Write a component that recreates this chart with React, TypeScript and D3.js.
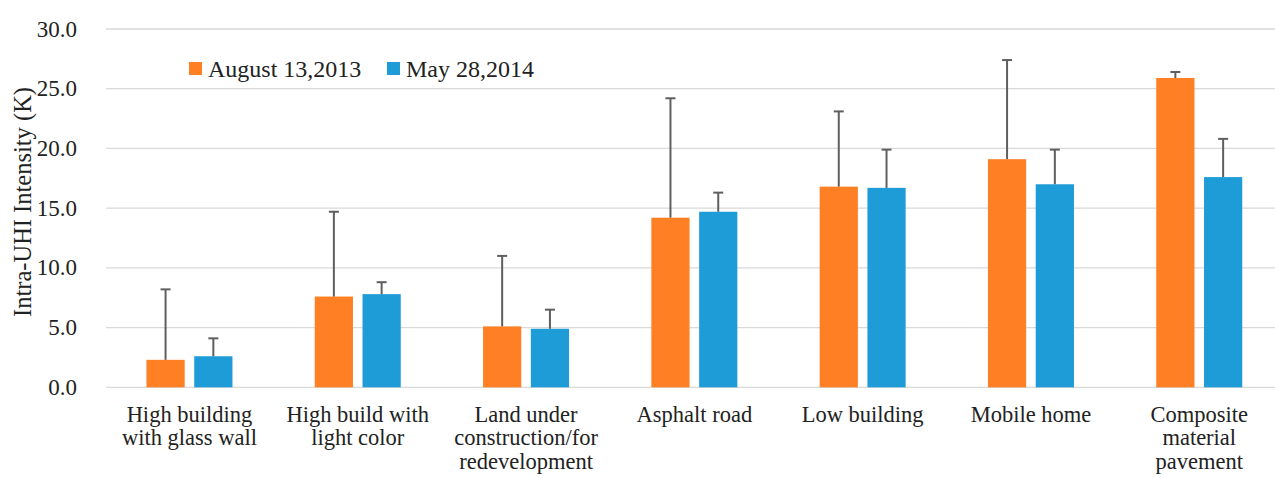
import React from 'react';
import * as d3 from 'd3';

const categories = [
  ['High building', 'with glass wall'],
  ['High build with', 'light color'],
  ['Land under', 'construction/for', 'redevelopment'],
  ['Asphalt road'],
  ['Low building'],
  ['Mobile home'],
  ['Composite', 'material', 'pavement'],
];
const seriesNames = ['August 13,2013', 'May 28,2014'];
const aug2013 = [2.3, 7.6, 5.1, 14.2, 16.8, 19.1, 25.9];
const aug2013Err = [5.9, 7.1, 5.9, 10.0, 6.3, 8.3, 0.5];
const may2014 = [2.6, 7.8, 4.9, 14.7, 16.7, 17.0, 17.6];
const may2014Err = [1.5, 1.0, 1.6, 1.6, 3.2, 2.9, 3.2];
const yTicks = [0, 5, 10, 15, 20, 25, 30];

const colors = ['#fe7f24', '#1e9cd8'];
const font = 'Liberation Serif';
const textColor = '#222';

const width = 1275;
const height = 478;

// plot area runs a bit past the cropped right edge
const x = d3.scaleBand<number>()
  .domain(categories.map((_, i) => i))
  .range([105.3, 1283.4]);
const inner = d3.scaleBand<number>()
  .domain([0, 1])
  .range([x.bandwidth() / 2 - 43, x.bandwidth() / 2 + 43])
  .paddingInner(0.2);
const y = d3.scaleLinear().domain([0, 30]).range([387.3, 29]);

const series = [
  { vals: aug2013, errs: aug2013Err },
  { vals: may2014, errs: may2014Err },
];

const App = () => {
  const legendX = [189, 387];
  return (
    <svg width={width} height={height}
      style={{ position: 'absolute', left: 0, top: 0, background: '#fff' }}>
      {/* gridlines */}
      {yTicks.map((t) => (
        <line key={'g' + t} x1={106} x2={width} y1={y(t)} y2={y(t)} stroke="#d9d9d9" strokeWidth={1.3} />
      ))}
      {/* tick labels */}
      {yTicks.map((t) => (
        <text key={'t' + t} x={77} y={y(t)} dy="0.33em" textAnchor="end"
          fontFamily={font} fontSize={23} fill={textColor}>{t.toFixed(1)}</text>
      ))}

      {series.map((s, si) => (
        <g key={'s' + si}>
          {s.vals.map((v, i) => (
            <rect key={i} x={(x(i) as number) + (inner(si) as number)} width={inner.bandwidth()}
              y={y(v)} height={y(0) - y(v)} fill={colors[si]} />
          ))}
          <g stroke="#5f5f5f" strokeWidth={2}>
            {s.vals.map((v, i) => {
              const cx = (x(i) as number) + (inner(si) as number) + inner.bandwidth() / 2;
              const top = y(v + s.errs[i]);
              return (
                <g key={'e' + i}>
                  <line x1={cx} x2={cx} y1={y(v)} y2={top} />
                  <line x1={cx - 5} x2={cx + 5} y1={top} y2={top} />
                </g>
              );
            })}
          </g>
        </g>
      ))}

      {/* category labels */}
      {categories.map((lines, i) => {
        const cx = (x(i) as number) + x.bandwidth() / 2;
        return (
          <text key={'c' + i} textAnchor="middle" fontFamily={font} fontSize={22.5} fill={textColor}>
            {lines.map((ln, li) => (
              <tspan key={li} x={cx} y={421.5 + li * 23.5}>{ln}</tspan>
            ))}
          </text>
        );
      })}

      {/* y axis title */}
      <text transform="translate(31, 202) rotate(-90)" textAnchor="middle"
        fontFamily={font} fontSize={24.5} fill={textColor}>Intra-UHI Intensity (K)</text>

      {/* legend */}
      {seriesNames.map((n, i) => (
        <g key={n}>
          <rect x={legendX[i]} y={62} width={13} height={13} fill={colors[i]} />
          <text x={legendX[i] + 19} y={77} fontFamily={font} fontSize={24} fill={textColor}>{n}</text>
        </g>
      ))}
    </svg>
  );
};

export default App;
